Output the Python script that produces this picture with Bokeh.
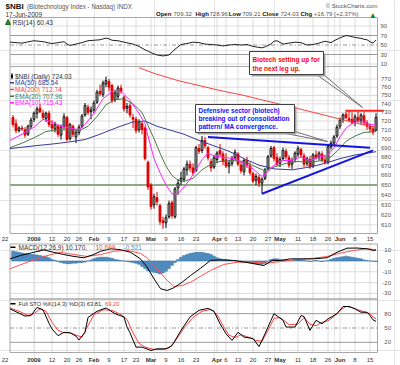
import math
from bokeh.plotting import figure
from bokeh.models import Range1d, LogScale, ColumnDataSource
from bokeh.core.properties import value
from bokeh.embed import file_html
from bokeh.resources import INLINE

# ------------------------------------------------------------------ data
# x = trading-day number, 0 = 2 Jan 2009 (22 Dec 2008 = -7, 17 Jun 2009 = 114)
bar_day = list(range(-7, 115))
close_before_first = 722.0

opens = [724, 717, 709, 712, 710, 705, 714,
         722, 729, 735, 729, 723, 729, 716, 711, 714, 704, 714, 724, 700, 714, 702, 707, 714, 727, 736, 731,
         733, 742, 755, 751, 764, 767, 762, 745, 749, 759, 748, 735, 738, 724, 722, 710, 717, 712, 674,
         650, 630, 637, 629, 614, 612, 618, 632, 618, 647, 654, 656, 666, 672, 668, 665, 689, 687, 698, 690, 675, 669,
         677, 687, 683, 677, 670, 673, 679, 683, 671, 664, 676, 670, 662, 655, 658, 652, 657, 667, 681, 690, 679,
         673, 678, 686, 679, 672, 677, 683, 688, 681, 673, 677, 670, 682, 680, 683, 676, 674, 691, 695, 703,
         714, 722, 728, 723, 722, 719, 724, 721, 726, 718, 714, 711, 709.32]
highs = [727, 722, 714, 715, 713, 716, 724,
         731, 737, 740, 733, 731, 732, 721, 719, 716, 716, 729, 726, 718, 716, 710, 716, 728, 741, 739, 737,
         744, 757, 763, 768, 773, 770, 764, 757, 762, 763, 750, 741, 741, 728, 725, 722, 719, 714, 676,
         652, 641, 643, 631, 618, 620, 634, 634, 648, 656, 664, 669, 676, 676, 673, 692, 694, 703, 702, 692, 678, 682,
         686, 694, 686, 684, 676, 681, 688, 685, 675, 678, 680, 674, 664, 662, 661, 658, 668, 682, 692, 692, 684,
         680, 690, 689, 682, 679, 686, 692, 690, 684, 680, 681, 684, 687, 686, 686, 681, 693, 698, 704, 716,
         724, 729, 733, 732, 730, 728, 731, 729, 730, 721, 717, 714, 728.96]
lows = [713, 706, 707, 709, 701, 703, 711,
        719, 723, 729, 721, 719, 713, 708, 707, 702, 699, 711, 697, 698, 702, 695, 704, 712, 725, 727, 722,
        729, 740, 749, 748, 760, 755, 741, 742, 745, 752, 731, 729, 724, 712, 706, 707, 705, 676, 645,
        625, 626, 629, 610, 606, 607, 616, 616, 616, 640, 650, 653, 660, 664, 660, 664, 683, 684, 689, 676, 664, 667,
        673, 680, 671, 668, 662, 670, 676, 670, 662, 660, 668, 660, 652, 650, 648, 641, 655, 665, 679, 675, 670,
        669, 676, 677, 668, 667, 674, 680, 679, 669, 670, 667, 668, 677, 676, 674, 672, 672, 688, 693, 701,
        711, 718, 722, 719, 716, 714, 718, 716, 715, 710, 707, 704, 709.21]
closes = [716, 709, 712, 711, 704, 714, 721,
          729, 734, 731, 724, 729, 716, 712, 716, 705, 713, 725, 699, 716, 705, 707, 713, 726, 738, 730, 733,
          741, 754, 752, 765, 768, 760, 744, 753, 759, 755, 734, 737, 727, 722, 709, 719, 710, 678, 648,
          628, 638, 633, 613, 612, 617, 631, 619, 646, 652, 657, 667, 672, 668, 663, 690, 686, 698, 692, 679, 668, 679,
          684, 683, 675, 670, 673, 678, 685, 672, 665, 676, 671, 663, 654, 659, 652, 656, 666, 680, 689, 678, 672,
          677, 687, 680, 671, 676, 684, 689, 682, 672, 678, 669, 682, 679, 684, 676, 674, 691, 695, 702, 713,
          721, 727, 724, 721, 718, 725, 720, 727, 718, 714, 711, 707.24, 724.03]

ema10_day = [-8, -4, 0, 3, 6, 9, 12, 15, 17, 20, 23, 26, 29, 32, 35, 37, 38, 40, 42, 44, 46, 48, 50, 52, 54,
             56, 58, 60, 62, 64, 67, 70, 73, 76, 78, 80, 83, 86, 89, 92, 95, 98, 100, 102, 104, 106, 108,
             110, 112, 114]
ema10_val = [698, 705, 713, 722, 719, 714, 712, 710, 716, 729, 746, 755, 755, 744, 729, 717, 703, 678, 663,
             650, 641, 641, 648, 656, 666, 677, 684, 681, 680, 679, 678, 673, 667, 659, 664, 671, 676, 676,
             680, 676, 680, 682, 690, 702, 712, 717, 720, 719, 716, 715.43]
ema20_day = [-8, -4, 0, 4, 8, 12, 15, 18, 21, 24, 27, 30, 33, 36, 38, 40, 42, 44, 46, 48, 50, 53, 56, 59,
             62, 66, 70, 74, 77, 80, 84, 88, 92, 96, 99, 101, 104, 107, 110, 114]
ema20_val = [690, 695, 701, 708, 710, 710, 709, 714, 725, 739, 745, 746, 740, 730, 715, 700, 684, 670, 660,
             655, 654, 657, 666, 672, 675, 676, 675, 669, 665, 669, 673, 675, 674, 676, 680, 686, 697, 703,
             707, 707.96]
ma50_day = [-8, 0, 6, 11, 17, 22, 28, 33, 37, 41, 45, 50, 55, 60, 65, 70, 75, 80, 86, 92, 97, 102, 107, 114]
ma50_val = [689, 692, 694, 696, 699, 705, 713, 719, 720, 714, 710, 705, 698, 692, 686, 678, 671, 667, 666,
            669, 673, 678, 682, 685.54]
ma200_day = [35, 40, 48, 55, 62, 70, 78, 85, 92, 100, 107, 114]
ma200_val = [784, 777, 768, 762, 756, 750, 743, 737, 731, 724, 718, 712.74]

rsi_day = [-8, -4, 0, 3, 6, 8, 10, 11, 12, 14, 16, 18, 20, 22, 24, 25, 26, 28, 30, 33, 35, 37, 39, 41, 43,
           45, 47, 49, 51, 53, 55, 57, 59, 61, 63, 65, 67, 69, 71, 73, 75, 76, 77, 79, 80, 81, 83, 85, 87,
           89, 91, 93, 95, 97, 99, 100, 102, 104, 105, 107, 109, 110, 111, 112, 113, 114]
rsi_val = [56, 54, 59, 57, 53, 55, 57, 52, 49, 52, 55, 59, 60, 61, 64.5, 63, 60, 59, 56, 52, 47, 40, 34, 29,
           27, 29, 41, 51, 53, 56, 55, 52, 51, 50, 48, 50, 51, 50, 51, 47, 45, 44, 46, 52, 58, 59, 52, 54,
           56, 55, 50, 51, 54, 58, 55, 59, 65, 70, 69, 66, 64, 62, 61, 57, 54, 60.43]

macd_day = [-8, -4.5, 0, 3.3, 6.6, 9.9, 13.3, 16.6, 19.9, 22.2, 25.5, 28.8, 32.2, 35.5, 37.7, 40, 42.2,
            44.4, 46.6, 49.4, 52.2, 55.5, 58.8, 62.2, 66.6, 70, 73.3, 76.6, 79.4, 82.2, 85.5, 88.8, 93.3,
            97.7, 101, 104.4, 107.7, 111, 113.3, 114]
macd_val = [2.0, 5.1, 8.1, 10.3, 8.0, 6.0, 4.2, 3.0, 6.0, 9.0, 11.3, 10.5, 8.0, 2.0, -5.7, -16.5, -25.7,
            -27.3, -24.8, -19.6, -13.4, -6.8, 0.5, 1.0, 0.5, -1.0, -2.5, -4.2, 0.5, 0.5, 2.0, 2.0, 2.0, 3.0,
            8.1, 11.9, 12.0, 11.3, 9.7, 10.17]
signal_day = [-8, -2.2, 3.3, 8.8, 13.3, 17.7, 22.2, 26.6, 31, 35.5, 37.7, 41, 44.4, 46.6, 49.4, 52.2, 55.5,
              58.8, 63.3, 67.7, 73.3, 77.7, 82.2, 86.6, 92.2, 97.7, 102.2, 106.6, 111, 113.3, 114]
signal_val = [-7.2, -1.1, 4.2, 8.1, 6.0, 4.2, 6.0, 9.0, 10.0, 7.0, 3.0, -7.2, -18.0, -23.6, -22.7, -19.6,
              -14.2, -8.8, -3.2, -1.1, -1.1, -2.0, -0.5, 1.1, 2.2, 4.2, 7.3, 9.8, 11.3, 10.7, 10.699]
hist_val = [9, 8.5, 8, 7.5, 7, 6.5, 6,
            6, 5.5, 5, 4.5, 4, 3, 1.5, 0.5, -0.5, -1.5, -2, -2.5, -2.5, -2, -2, -1.5, -1.5, -1, 0, 1,
            2, 3, 3.5, 3.5, 3.5, 3, 2.5, 1.5, 1, 0.5, 0, -0.5, -1, -1.5, -2, -3, -5, -7, -9,
            -10, -10.5, -11, -12, -11, -9.5, -7, -4, -1.5, 1.5, 3.5, 5, 6, 7, 7.5, 8, 8, 8, 7.5, 7, 6, 4.5,
            3, 2, 1.5, 1.5, 1, 0.5, 0.5, 0, 0, -0.5, -1, -1.5, -2, -2.5, -2.5, -3, -2, 0, 1.5, 2, 2,
            1.5, 1, 0.5, 0.5, 0.5, 0.5, 1, 1, 0.5, 0, -0.5, 0, 0.5, 0, -0.5, 0, 0.5, 1.5, 2.5,
            3, 3.5, 4, 4.5, 4, 3.5, 3, 2.5, 2, 1, 0.5, 0, -0.3, -0.521]

stok_day = [-8, -6, -3, -1, 1, 3, 5, 6, 8, 10, 12, 14, 15, 17, 18, 21, 24, 27, 30, 31, 32, 34, 36, 39, 41,
            44, 46, 49, 52, 55, 58, 60, 62, 64, 66, 68, 70, 73, 75, 77, 79, 80, 83, 84, 87, 89, 90, 92, 94,
            96, 98, 101, 103, 105, 107, 109, 111, 112, 113, 114]
stok_val = [90, 84, 75, 76, 93, 88, 60, 48, 34, 41, 40, 33, 25, 41, 72, 85, 92, 80, 73, 52, 40, 10, 10, 3,
            6.5, 6.5, 13, 45, 73, 87, 91, 85, 59, 38, 24, 41, 31, 28, 11, 38, 66, 80, 66, 52, 52, 76, 74, 45,
            66, 59, 69, 80, 95, 95, 90, 83, 83, 76, 67, 63.81]
stod_day = [-8, -5, -2, 0, 2, 4, 6, 8, 10, 12, 14, 16, 18, 20, 23, 26, 29, 31, 33, 35, 37, 40, 43, 45, 47,
            50, 53, 56, 59, 61, 63, 65, 67, 69, 71, 74, 76, 78, 80, 82, 85, 88, 90, 92, 94, 96, 98, 100, 102,
            104, 106, 108, 110, 112, 113, 114]
stod_val = [92, 85, 76, 80, 90, 85, 62, 45, 40, 40, 35, 31, 55, 78, 88, 87, 78, 68, 40, 18, 10, 5, 5, 8, 22,
            50, 72, 85, 89, 78, 55, 35, 30, 36, 32, 24, 22, 45, 70, 72, 57, 58, 72, 58, 55, 62, 65, 74, 87,
            95, 93, 88, 84, 80, 73, 69.20]

date_labels = ["22", "2009", "12", "20", "26", "Feb", "9", "17", "23", "Mar", "9", "16", "23", "Apr", "6",
               "13", "20", "27", "May", "11", "18", "26", "Jun", "8", "15"]
date_days = [-7, 0, 6, 11, 15, 20, 25, 30, 34, 39, 44, 49, 54, 61, 64, 68, 73, 78, 82, 88, 93, 98, 102, 107, 112]
date_bold = ["2009", "Feb", "Mar", "Apr", "May", "Jun"]

price_ticks = [770, 760, 750, 740, 730, 720, 710, 700, 690, 680, 670, 660, 650, 640, 630, 620, 610]
rsi_ticks = [90, 70, 50, 30, 10]
macd_ticks = [10, 0, -10, -20, -30]
sto_ticks = [80, 50, 20]

upper_trend_day = [58, 112]
upper_trend_val = [702, 690]
lower_trend_day = [76, 113]
lower_trend_val = [641, 687]
resist_day = [104, 116.5]
resist_val = [732, 732]
support_val = 650

# ------------------------------------------------------------------ layout
FONT = "Liberation Sans"
OX, OY, W, H = 0, 0, 400, 365          # canvas in reference pixels
X0, DX = 33.5, 3.0                      # pixel of day 0, pixels per day


def dx(px):
    return (px - X0) / DX


LEFT, RIGHT = -8.0, 114.5
RSI_T, RSI_B = 17, 66
PR_T, PR_B = 66, 233
MA_T, MA_B = 243.5, 298.5
ST_T, ST_B = 298.5, 352


def lin_range(a, b):     # pixel y = a - b * v
    return Range1d(start=(a - (OY + H)) / b, end=(a - OY) / b)


PY0, PK = 78.5, 626.0    # pixel of 770, pixels per log unit
price_range = Range1d(start=770 * math.exp(-((OY + H) - PY0) / PK), end=770 * math.exp(-(OY - PY0) / PK))

p = figure(width=W, height=H, x_range=Range1d(dx(OX), dx(OX + W)), y_range=Range1d(OY + H, OY),
           output_backend="svg", toolbar_location=None, x_axis_location=None, y_axis_location=None,
           min_border=0)
p.extra_y_ranges = {"rsi": lin_range(68.25, 0.475), "price": price_range,
                    "macd": lin_range(260.5, 1.08), "sto": lin_range(351.4, 0.478)}
p.extra_y_scales = {"price": LogScale()}
p.outline_line_color = None
p.background_fill_color = "white"
p.border_fill_color = "white"

GRID = "#DCDCDC"
FRAME = "#A8A8A8"
MID = "#9A9A9A"


def txt(x, y, s, color="#333333", size="6px", bold=False, align="left", rng=None, font=FONT):
    kw = dict(x=[x], y=[y], text=[s], text_color=color, text_font=value(font), text_font_size=size,
              text_font_style="bold" if bold else "normal", text_align=align, text_baseline="middle")
    if rng:
        kw["y_range_name"] = rng
    p.text(**kw)


# vertical grid lines in every panel
for top, bot in [(RSI_T, RSI_B), (PR_T, PR_B), (MA_T, MA_B), (ST_T, ST_B)]:
    xs = date_days[1:]
    p.segment(x0=xs, y0=[top] * len(xs), x1=xs, y1=[bot] * len(xs), line_color=GRID, line_width=1)

# horizontal grid lines
p.segment(x0=[LEFT] * len(price_ticks), x1=[RIGHT] * len(price_ticks), y0=price_ticks, y1=price_ticks,
          line_color=GRID, y_range_name="price")
p.segment(x0=[LEFT] * len(macd_ticks), x1=[RIGHT] * len(macd_ticks), y0=macd_ticks, y1=macd_ticks,
          line_color=GRID, y_range_name="macd")
for v in rsi_ticks:
    if v in (70, 30):
        p.segment(x0=[LEFT], x1=[RIGHT], y0=[v], y1=[v], line_color=MID, y_range_name="rsi")
    elif v == 50:
        p.segment(x0=[LEFT], x1=[RIGHT], y0=[v], y1=[v], line_color=MID, line_dash="4 2 1 2", y_range_name="rsi")
    else:
        p.segment(x0=[LEFT], x1=[RIGHT], y0=[v], y1=[v], line_color=GRID, y_range_name="rsi")
for v in sto_ticks:
    dash = "4 2 1 2" if v == 50 else "solid"
    p.segment(x0=[LEFT], x1=[RIGHT], y0=[v], y1=[v], line_color=MID, line_dash=dash, y_range_name="sto")

# panel frames
for top, bot in [(RSI_T, RSI_B), (PR_T, PR_B), (MA_T, MA_B), (ST_T, ST_B)]:
    p.quad(left=[LEFT], right=[RIGHT], top=[top], bottom=[bot], fill_color=None, line_color=FRAME)

# ---------------- RSI panel
p.line(rsi_day, rsi_val, line_color="#222222", line_width=1, y_range_name="rsi")

# ---------------- price panel
p.segment(x0=[LEFT], x1=[RIGHT], y0=[support_val], y1=[support_val], line_color="#8FA985", line_width=2,
          y_range_name="price")

prev = [close_before_first] + closes[:-1]
col = ["#000000" if c >= pc else "#E00000" for c, pc in zip(closes, prev)]
fill = ["#FFFFFF" if c > o else cc for o, c, cc in zip(opens, closes, col)]
src = ColumnDataSource(dict(x=bar_day, h=highs, l=lows, top=[max(o, c) for o, c in zip(opens, closes)],
                            bot=[min(o, c) for o, c in zip(opens, closes)], col=col, fill=fill))
p.segment(x0="x", y0="l", x1="x", y1="h", line_color="col", line_width=1, source=src, y_range_name="price")
p.vbar(x="x", width=0.6, top="top", bottom="bot", fill_color="fill", line_color="col", line_width=1,
       source=src, y_range_name="price")

p.line(ma200_day, ma200_val, line_color="#FF4040", line_width=1, y_range_name="price")
p.line(ma50_day, ma50_val, line_color="#3A3A9A", line_width=1, y_range_name="price")
p.line(ema20_day, ema20_val, line_color="#4C7A4C", line_width=1, y_range_name="price")
p.line(ema10_day, ema10_val, line_color="#FF22FF", line_width=1, y_range_name="price")

p.line(upper_trend_day, upper_trend_val, line_color="#1515E0", line_width=2, y_range_name="price")
p.line(lower_trend_day, lower_trend_val, line_color="#1515E0", line_width=2, y_range_name="price")
p.line(resist_day, resist_val, line_color="#FF2020", line_width=2, y_range_name="price")

# annotations (callouts, boxes)
for (x0, y0) in [(316, 74), (323, 74)]:
    p.segment(x0=[dx(x0)], y0=[y0], x1=[dx(362)], y1=[107], line_color="#707070", line_width=1)
for (x0, y0) in [(280, 132), (291, 130)]:
    p.segment(x0=[dx(x0)], y0=[y0], x1=[dx(327)], y1=[141], line_color="#707070", line_width=1)
for (l, r, t, b) in [(249, 323, 51, 74), (195, 294, 104, 132)]:
    p.quad(left=[dx(l + 2)], right=[dx(r + 2)], top=[t + 2], bottom=[b + 2], fill_color="#A0A0A0",
           line_color=None)
    p.quad(left=[dx(l)], right=[dx(r)], top=[t], bottom=[b], fill_color="white", line_color="#404040")
txt(dx(252), 58.5, "Biotech setting up for", color="#FF0000", bold=True, size="6.5px")
txt(dx(252), 67.5, "the next leg up.", color="#FF0000", bold=True, size="6.5px")
txt(dx(198), 109.5, "Defensive sector (biotech)", color="#1010FF", bold=True, size="6.5px")
txt(dx(198), 117.5, "breaking out of consolidation", color="#1010FF", bold=True, size="6.5px")
txt(dx(198), 125.5, "pattern/ MA convergence.", color="#1010FF", bold=True, size="6.5px")

# ---------------- MACD panel
p.vbar(x=bar_day, width=0.9, top=hist_val, bottom=[0] * len(hist_val), fill_color="#4F90C8",
       line_color="#2E6A9A", line_width=0.5, y_range_name="macd")
p.line(signal_day, signal_val, line_color="#FF5050", line_width=1, y_range_name="macd")
p.line(macd_day, macd_val, line_color="#000000", line_width=1, y_range_name="macd")

# ---------------- STO panel
p.line(stod_day, stod_val, line_color="#FF4040", line_width=1, y_range_name="sto")
p.line(stok_day, stok_val, line_color="#000000", line_width=1, y_range_name="sto")

# ---------------- right-hand scale labels
for v in rsi_ticks:
    txt(dx(380), v, str(v), color="#555555", rng="rsi")
for v in price_ticks:
    txt(dx(390.5), v, str(v), color="#555555", align="right", rng="price")
for v in macd_ticks:
    txt(dx(390.5), v, str(v), color="#555555", align="right", rng="macd")
for v in sto_ticks:
    txt(dx(390.5), v, str(v), color="#555555", align="right", rng="sto")

# ---------------- date labels
for k, (lab, d) in enumerate(zip(date_labels, date_days)):
    x = dx(4.5) if k == 0 else d
    for yy in (238.5, 359):
        txt(x, yy, lab, color="#333333", bold=lab in date_bold, align="center")

# ---------------- header and legends
txt(dx(5), 5.5, "$NBI", color="#111111", bold=True, size="8px")
txt(dx(26.5), 5.5, "(Biotechnology Index - Nasdaq) INDX", color="#555555", size="6.3px")
txt(dx(5), 13.5, "17-Jun-2009", color="#333333", size="6.5px")
txt(dx(377), 5.5, "\u00a9 StockCharts.com", color="#555555", size="6px", align="right")
hdr = [(155.5, "Open", True), (173, "709.32", False), (195, "High", True), (209, "728.96", False),
       (228.3, "Low", True), (241.7, "709.21", False), (261.7, "Close", True), (280, "724.03", False),
       (300, "Chg", True), (313.3, "+16.79 (+2.37%)", False)]
for x, s, b in hdr:
    txt(dx(x), 13.5, s, color="#111111" if b else "#555555", bold=b, size="6px")
txt(dx(370), 13.5, "\u25b2", color="#008800", size="6px", font="DejaVu Sans")

p.patch([dx(5), dx(7.5), dx(10), dx(5)], [24, 19, 24, 24], fill_color="#2E8B2E", line_color="#1E6B1E")
txt(dx(12), 21.5, "RSI(14) 60.43", color="#333333", size="6.5px")

leg = [("$NBI (Daily) 724.03", "#333333"), ("MA(50) 685.54", "#3A3A9A"), ("MA(200) 712.74", "#FF4040"),
       ("EMA(20) 707.96", "#4C7A4C"), ("EMA(10) 715.43", "#FF22FF")]
for k, (s, c) in enumerate(leg):
    yy = 75.7 + 6.65 * k
    if k == 0:
        p.segment(x0=[dx(11.5)], x1=[dx(11.5)], y0=[yy - 3], y1=[yy + 3], line_color="#000000")
        p.quad(left=[dx(10.5)], right=[dx(12.5)], top=[yy - 1.5], bottom=[yy + 1.5], fill_color="#000000",
               line_color=None)
    else:
        p.segment(x0=[dx(9.5)], x1=[dx(13.5)], y0=[yy], y1=[yy], line_color=c, line_width=1.5)
    txt(dx(14.5), yy, s, color=c, size="6.5px")

p.segment(x0=[dx(10)], x1=[dx(15)], y0=[246.7], y1=[246.7], line_color="#000000", line_width=1.5)
txt(dx(18), 246.7, "MACD(12,26,9) 10.170,", color="#333333", size="6.5px")
txt(dx(95), 246.7, "10.699,", color="#FF4040", size="6.5px")
txt(dx(123), 246.7, "-0.521", color="#4F90C8", size="6.5px")

p.segment(x0=[dx(10)], x1=[dx(15)], y0=[303.3], y1=[303.3], line_color="#000000", line_width=1.5)
txt(dx(18), 303.3, "Full STO %K(14,3) %D(3) 63.81,", color="#333333", size="5.8px")
txt(dx(104.5), 303.3, "69.20", color="#FF4040", size="5.8px")

open("out.html", "w").write(file_html(p, INLINE))
